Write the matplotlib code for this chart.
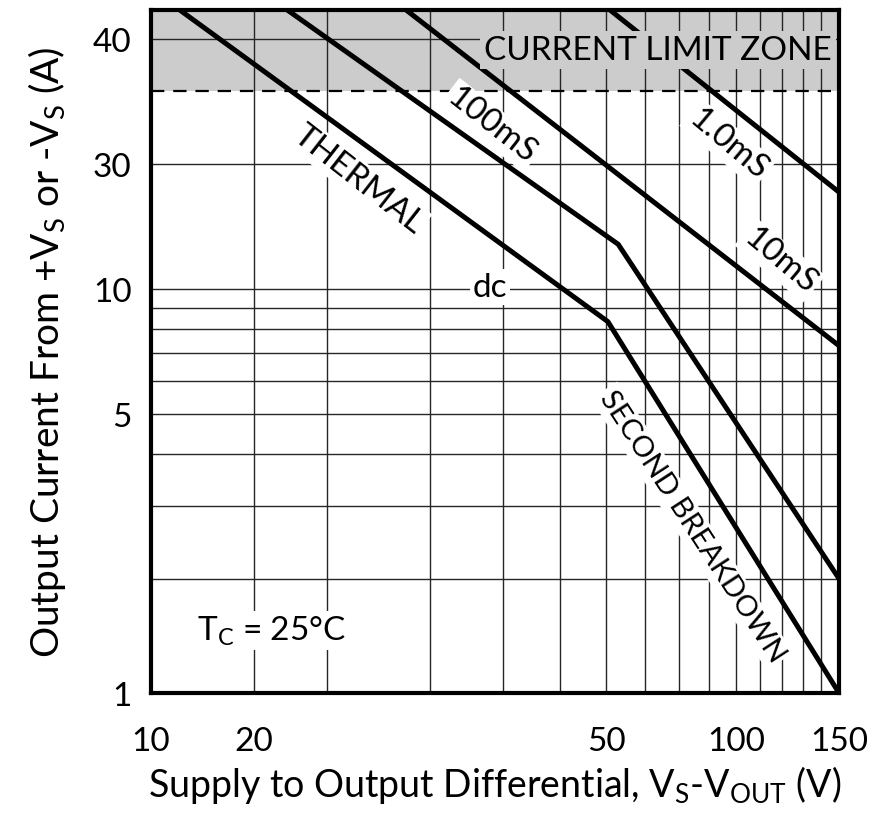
import matplotlib
matplotlib.use("Agg")
import matplotlib.pyplot as plt
from matplotlib.ticker import FixedLocator, FixedFormatter, NullFormatter

plt.rcParams["font.family"] = ["Lato", "DejaVu Sans"]
plt.rcParams["mathtext.fontset"] = "custom"
plt.rcParams["mathtext.rm"] = "Lato"
plt.rcParams["mathtext.it"] = "Lato:italic"

# safe operating area curves, volts / amps
dc_v = [11.2, 60.4, 150]
dc_a = [47, 8.33, 1.06]
ms100_v = [17.1, 62.9, 150]
ms100_a = [47, 12.8, 2.0]
ms10_v = [27.3, 150]
ms10_a = [47, 7.29]
ms1_v = [60.9, 150]
ms1_a = [47, 17.1]
current_limit = 30

x_ticks = [10, 15, 60, 100, 150]
x_labels = ["10", "20", "50", "100", "150"]
x_grid = [20, 30, 40, 50, 70, 80, 90, 110, 120, 130, 140]
y_ticks = [1.06, 5, 10, 20, 40]
y_labels = ["1", "5", "10", "30", "40"]
y_grid = [2, 3, 4, 6, 7, 8, 9]

fig = plt.figure(figsize=(8.78, 8.2), dpi=100)
ax = fig.add_axes([151 / 878, 126 / 820, 688 / 878, 683 / 820])
ax.set_xscale("log")
ax.set_yscale("log")
ax.set_xlim(10, 150)
ax.set_ylim(1.06, 47)

ax.xaxis.set_major_locator(FixedLocator(x_ticks))
ax.xaxis.set_major_formatter(FixedFormatter(x_labels))
ax.xaxis.set_minor_locator(FixedLocator(x_grid))
ax.xaxis.set_minor_formatter(NullFormatter())
ax.yaxis.set_major_locator(FixedLocator(y_ticks))
ax.yaxis.set_major_formatter(FixedFormatter(y_labels))
ax.yaxis.set_minor_locator(FixedLocator(y_grid))
ax.yaxis.set_minor_formatter(NullFormatter())

ax.set_axisbelow(True)
ax.grid(True, which="both", color="0.15", lw=1.0)
ax.tick_params(which="both", length=0, labelsize=24)
ax.tick_params(axis="x", pad=24)
ax.tick_params(axis="y", pad=14)
for s in ax.spines.values():
    s.set_linewidth(3)
    s.set_zorder(6)

ax.axhspan(current_limit, 47, color="#cccccc", zorder=0.2, lw=0)
ax.axhline(current_limit, color="black", lw=1.6, dashes=(6, 4), zorder=1.5)

for v, a in [(dc_v, dc_a), (ms100_v, ms100_a), (ms10_v, ms10_a), (ms1_v, ms1_a)]:
    ax.plot(v, a, color="black", lw=3.6, solid_joinstyle="miter", zorder=3)

wbox = dict(facecolor="white", edgecolor="none", pad=2)
kw = dict(ha="center", va="center", rotation_mode="anchor", fontsize=24, zorder=2)
ax.text(22.6, 18.4, "THERMAL", rotation=-38, bbox=wbox, **kw)
ax.text(38.2, 24.8, "100mS", rotation=-38, bbox=wbox, **kw)
ax.text(96.9, 22.4, "1.0mS", rotation=-40, bbox=wbox, **kw)
ax.text(118.9, 11.7, "10mS", rotation=-40, bbox=wbox, **kw)
ax.text(38.0, 10.1, "dc", bbox=wbox, **kw)
kw["fontsize"] = 21
ax.text(84.1, 2.68, "SECOND BREAKDOWN", rotation=-57, bbox=wbox, **kw)
kw["fontsize"] = 24
ax.text(16.1, 1.50, r"T$_\mathrm{C}$ = 25°C", bbox=wbox, **kw)
ax.text(73.5, 37.7, "CURRENT LIMIT ZONE", ha="center", va="center", fontsize=24,
        zorder=4, bbox=dict(facecolor="#cccccc", edgecolor="none", pad=3))

ax.set_xlabel(r"Supply to Output Differential, V$_\mathrm{S}$-V$_\mathrm{OUT}$ (V)",
              fontsize=27, labelpad=5)
ax.set_ylabel(r"Output Current From +V$_\mathrm{S}$ or -V$_\mathrm{S}$ (A)",
              fontsize=28, labelpad=18)

fig.savefig("out.png", dpi=100)
